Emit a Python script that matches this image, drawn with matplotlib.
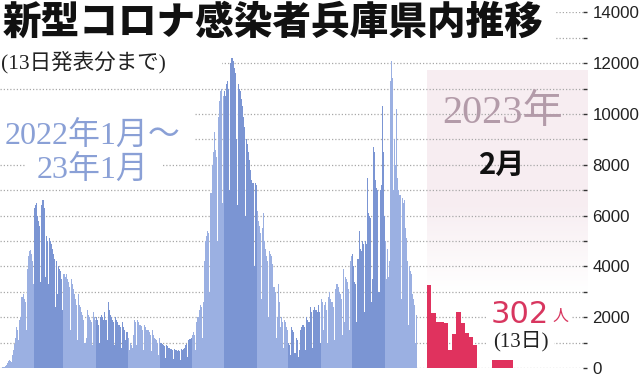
import numpy as np
import matplotlib
matplotlib.use("Agg")
import matplotlib.pyplot as plt
from matplotlib.patches import Rectangle
from matplotlib.ticker import MultipleLocator

# ---------------- data (daily new cases, Hyogo) ----------------
jan22 = [22, 40, 35, 70, 110, 200, 260, 300, 280, 250, 500, 700, 950, 1200, 1600, 1500,
         1100, 1900, 2000, 2800, 2900, 2700, 2600, 1500, 3900, 4400, 4600, 4650, 4500, 4200, 3300]
feb22 = [6300, 6400, 6500, 6000, 5800, 5600, 3400, 6400, 6600, 6300, 3600, 5200, 5000, 3300,
         5100, 5000, 4900, 4700, 4500, 4300, 2400, 4200, 2900, 4000, 3900, 3800, 3500, 2300]
mar22 = [3700, 3600, 3700, 3500, 3400, 3200, 1500, 3500, 3300, 3100, 2900, 2700, 2500, 1100,
         2900, 2500, 2400, 2200, 2100, 1900, 1000, 1200, 2300, 2100, 2000, 1900, 1800, 900,
         2200, 2000, 1900]
apr22 = [2000, 1900, 1700, 1000, 2000, 2100, 2000, 1900, 2200, 1900, 1100, 2600, 2300, 2100,
         2000, 1900, 1800, 900, 2000, 1900, 1800, 1700, 1700, 1600, 800, 1800, 1600, 1500,
         1100, 1400]
may22 = [1200, 700, 1000, 900, 800, 1300, 1900, 1800, 900, 1900, 1800, 1700, 1700, 1650,
         1500, 700, 1700, 1600, 1500, 1500, 1400, 1300, 650, 1500, 1300, 1200, 1150, 1100,
         1000, 500, 1200]
jun22 = [1000, 1000, 950, 900, 850, 400, 900, 850, 800, 750, 750, 700, 350, 750, 700, 700,
         650, 700, 650, 300, 750, 700, 750, 800, 900, 950, 450, 1100, 1150, 1200]
jul22 = [1300, 1400, 1300, 700, 1800, 2000, 2000, 2300, 2500, 2400, 1200, 2600, 4200, 5000,
         5200, 5400, 5300, 3000, 6900, 8000, 8500, 9300, 8600, 8300, 5000, 9900, 10500, 10900,
         11000, 6500, 10700]
aug22 = [10900, 10700, 11200, 11300, 11000, 7000, 12000, 12200, 12100, 11800, 11600, 9000,
         6400, 11200, 11000, 10900, 10600, 10300, 9900, 9500, 6000, 9000, 8800, 8500, 8200,
         7800, 7400, 7300, 4000, 7300, 7200]
sep22 = [6200, 5800, 5600, 5300, 2700, 5500, 6100, 5000, 4700, 4400, 4200, 2000, 4600, 4500,
         4400, 4100, 3200, 3000, 1200, 2000, 3300, 2600, 1600, 2000, 1800, 800, 1900, 1800,
         1600, 1500]
oct22 = [1000, 900, 500, 1600, 1500, 1400, 600, 1200, 1100, 450, 700, 1500, 1600, 1700, 1700,
         1600, 700, 2000, 1900, 1800, 1800, 2400, 2200, 800, 2300, 2400, 2300, 2200, 2500,
         2200, 1000]
nov22 = [2700, 2600, 1500, 2500, 2600, 2300, 1000, 2800, 3000, 2700, 2600, 2600, 2400, 1100,
         3100, 3300, 3200, 3000, 2900, 2700, 1300, 3900, 1800, 3600, 3500, 3400, 3100, 1500,
         4200, 4400]
dec22 = [4500, 4000, 3400, 3300, 1800, 4300, 5400, 4700, 4600, 5000, 4900, 2200, 5000, 4900,
         7500, 6100, 6000, 5900, 2600, 3500, 8700, 8500, 7400, 7100, 7000, 3000, 7000, 7200,
         10300, 8500, 6000]
jan23 = [5000, 3500, 4700, 3600, 4200, 11300, 12100, 11400, 7000, 9000, 8000, 10200, 7500,
         7000, 6800, 2700, 6700, 6500, 6600, 5500, 5100, 4200, 1700, 4000, 3800, 3700, 2900,
         2700, 2500, 1000, 2100]
feb23 = [3270, 2160, 1830, 1830, 1780, 710, 1350, 2220, 1770, 1380, 1230, 900]
latest_value = 302  # Feb 13

blue_months = [jan22, feb22, mar22, apr22, may22, jun22, jul22, aug22,
               sep22, oct22, nov22, dec22, jan23]
ytick_values = [0, 2000, 4000, 6000, 8000, 10000, 12000, 14000]
ytick_labels = ["0", "2000", "4000", "6000", "8000", "10000", "12000", "14000"]

# ---------------- style ----------------
LIGHT = "#9bb0e2"
DARK = "#7b95d3"
RED = "#e0325e"
LABEL_RED = "#d8365f"
TEXT_BLUE = "#8aa0d6"
MAUVE = "#b39ba9"
PINK = (0.972, 0.93, 0.948)
GRID = "#a8a8a8"

W, H = 640, 377
fig = plt.figure(figsize=(W / 100, H / 100), dpi=100)
fig.patch.set_facecolor("white")


def fx(px):
    return px / W


def fy(py):
    return 1 - py / H


# axes geometry (pixels)
X0 = 1.5            # left edge of first day
PX_DAY = 1.05       # pixels per day
AX_L, AX_R = 0, 583
Y0 = 368            # pixel row of value 0
PX_UNIT = 0.0254    # pixels per case
YMAX = 14000
top_px = Y0 - YMAX * PX_UNIT

ax = fig.add_axes([fx(AX_L), 1 - Y0 / H, (AX_R - AX_L) / W, (Y0 - top_px) / H])
ax.set_xlim((AX_L - X0) / PX_DAY, (AX_R - X0) / PX_DAY)
ax.set_ylim(0, YMAX)

# pink background for Feb 2023
pink_l = (427 - X0) / PX_DAY
pink_r = (588 - X0) / PX_DAY
pink_top, pink_bot = 11700, 2500
n = 200
rows = np.linspace(pink_top, pink_bot, n)
alpha = np.clip((rows - 3000) / 3500.0, 0, 1)
grad = np.zeros((n, 1, 4))
grad[..., 0], grad[..., 1], grad[..., 2] = PINK
grad[:, 0, 3] = alpha
ax.imshow(grad, extent=[pink_l, pink_r, pink_bot, pink_top], aspect="auto",
          origin="upper", zorder=0.2, clip_on=False, interpolation="bilinear")

# blue daily bars
values = []
colors = []
for i, m in enumerate(blue_months):
    values.extend(m)
    colors.extend([LIGHT if i % 2 == 0 else DARK] * len(m))
xs = np.arange(len(values))
ax.bar(xs, values, width=1.0, align="edge", color=colors, edgecolor="none",
       linewidth=0, zorder=2)

# red Feb 2023 bars
red_start = (427.3 - X0) / PX_DAY
red_w = 4.17 / PX_DAY
rx = red_start + red_w * np.arange(len(feb23))
ax.bar(rx, feb23, width=red_w, align="edge", color=RED, edgecolor="none",
       linewidth=0, zorder=2)
ax.bar([(491.7 - X0) / PX_DAY], [latest_value], width=21.6 / PX_DAY, align="edge",
       color=RED, edgecolor="none", linewidth=0, zorder=2)

# grid and ticks
ax.yaxis.set_major_locator(MultipleLocator(2000))
ax.yaxis.set_minor_locator(MultipleLocator(1000))
ax.set_axisbelow(True)
ax.grid(which="both", axis="y", color=GRID, linestyle=(0, (1, 1.6)), linewidth=0.9,
        zorder=0.5)
ax.yaxis.tick_right()
ax.set_yticks(ytick_values)
ax.set_yticklabels(ytick_labels)
ax.tick_params(axis="y", which="both", direction="out", length=3.2, width=1.0,
               color="#333333", pad=3.6, labelsize=12.2, labelcolor="#222222")
for t in ax.get_yticklabels():
    t.set_fontfamily(["Liberation Sans", "DejaVu Sans"])
ax.set_xticks([])
for s in ax.spines.values():
    s.set_visible(False)
ax.patch.set_alpha(0)


def cover(x0, y0, x1, y1):
    fig.patches.append(Rectangle((fx(x0), fy(y1)), (x1 - x0) / W, (y1 - y0) / H,
                                 transform=fig.transFigure, facecolor="white",
                                 edgecolor="none", zorder=1))


cover(0, 0, 556, 44)
cover(0, 44, 222, 78)
cover(0, 110, 195, 155)
cover(25, 155, 162, 188)
cover(488, 298, 572, 327)
cover(488, 330, 554, 354)

CJK_SANS = ["Noto Sans CJK JP", "DejaVu Sans"]
SERIF_MIX = ["Liberation Serif", "Noto Sans CJK JP"]

fig.text(fx(3), fy(22.5), "新型コロナ感染者兵庫県内推移", fontsize=27.8,
         fontweight="heavy", family=CJK_SANS, color="#111111", ha="left", va="center")
fig.text(fx(1), fy(62.5), "(13日発表分まで)", fontsize=15.5, family=SERIF_MIX,
         color="#222222", ha="left", va="center")
fig.text(fx(93), fy(137), "2022年1月～", fontsize=23, family=SERIF_MIX,
         color=TEXT_BLUE, ha="center", va="center")
fig.text(fx(93), fy(171), "23年1月", fontsize=23, family=SERIF_MIX,
         color=TEXT_BLUE, ha="center", va="center")
fig.text(fx(502.5), fy(113), "2023年", fontsize=29, family=SERIF_MIX,
         color=MAUVE, ha="center", va="center")
fig.text(fx(502.5), fy(164.5), "2月", fontsize=21, fontweight="bold", family=CJK_SANS,
         color="#111111", ha="center", va="center")
fig.text(fx(491), fy(323), "302", fontsize=22, family=["DejaVu Sans"],
         color=LABEL_RED, ha="left", va="baseline")
fig.text(fx(552), fy(321), "人", fontsize=11.5, family=CJK_SANS,
         color=LABEL_RED, ha="left", va="baseline")
fig.text(fx(521), fy(341), "(13日)", fontsize=15, family=SERIF_MIX,
         color="#222222", ha="center", va="center")

fig.savefig("out.png", dpi=100, facecolor="white")
